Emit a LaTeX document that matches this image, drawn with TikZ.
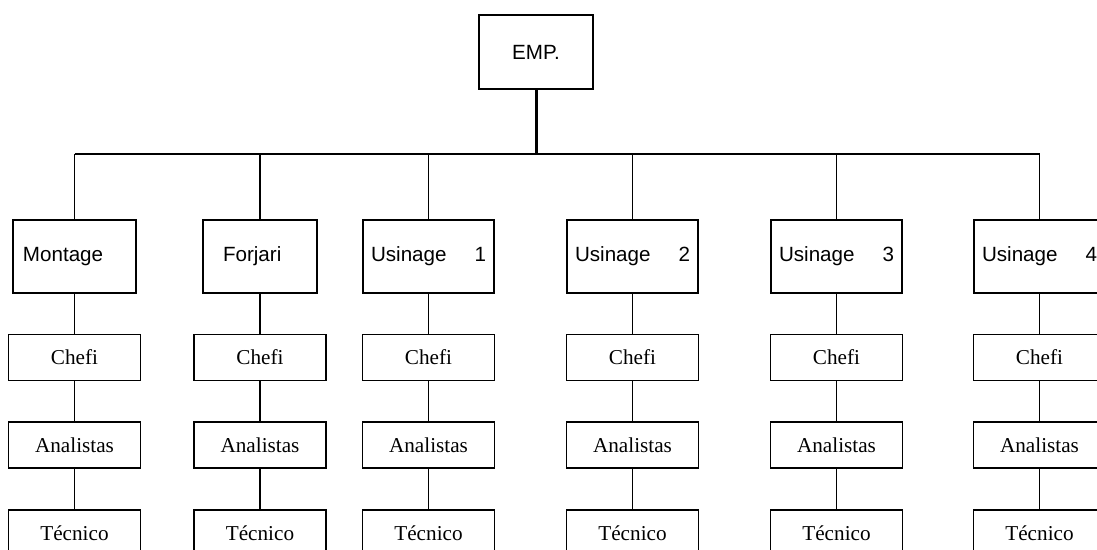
\documentclass[tikz,border=0pt]{standalone}
\usepackage{fontspec}
\setmainfont{Liberation Serif}
\setsansfont{Liberation Sans}
\usetikzlibrary{positioning}

\begin{document}
\begin{tikzpicture}[x=0.5pt, y=-0.5pt,
        node distance=19.9pt,
        top/.style={rectangle, draw, line width=0.9pt, minimum width=57pt, minimum height=37pt,
                    font=\sffamily\fontsize{10.3}{12}\selectfont},
        unit/.style={rectangle, draw, line width=0.9pt, minimum height=36.5pt, align=left,
                     inner xsep=4pt, text width=57.5pt, font=\sffamily\fontsize{10.3}{12}\selectfont},
        staff/.style={rectangle, draw, line width=0.9pt, minimum width=66pt, minimum height=23pt,
                      font=\fontsize{10.6}{12}\selectfont},
        link/.style={line width=0.9pt}
    ]
        \clip (0,0) rectangle (1097,550);

        \node[top] (emp) at (536,52) {EMP.};
        \coordinate (bus) at (536,154);

        \node[unit, inner xsep=5pt, text width=51.5pt] (mont) at (74.5,256.5) {Montage};
        \node[unit, inner xsep=10pt, text width=37pt] (forj) at (260,256.5) {Forjari};
        \node[unit] (usi1) at (428.5,256.5) {Usinage\hfill 1};
        \node[unit] (usi2) at (632.5,256.5) {Usinage\hfill 2};
        \node[unit] (usi3) at (836.5,256.5) {Usinage\hfill 3};
        \node[unit] (usi4) at (1039.5,256.5) {Usinage\hfill 4};

        \draw[line width=1.5pt] (emp) -- (emp.south |- bus);
        \draw[link] (mont.north |- bus) -- (usi4.north |- bus);

        % staff under each unit
        \foreach \n in {mont, forj, usi1, usi2, usi3, usi4} {
            \node[staff, below=of \n] (\n-c) {Chefi};
            \node[staff, below=of \n-c] (\n-a) {Analistas};
            \node[staff, below=of \n-a] (\n-t) {Técnico};
            \draw[link] (\n.north) -- (\n.north |- bus);
            \draw[link] (\n) -- (\n-c) (\n-c) -- (\n-a) (\n-a) -- (\n-t);
        }
    \end{tikzpicture}
\end{document}
